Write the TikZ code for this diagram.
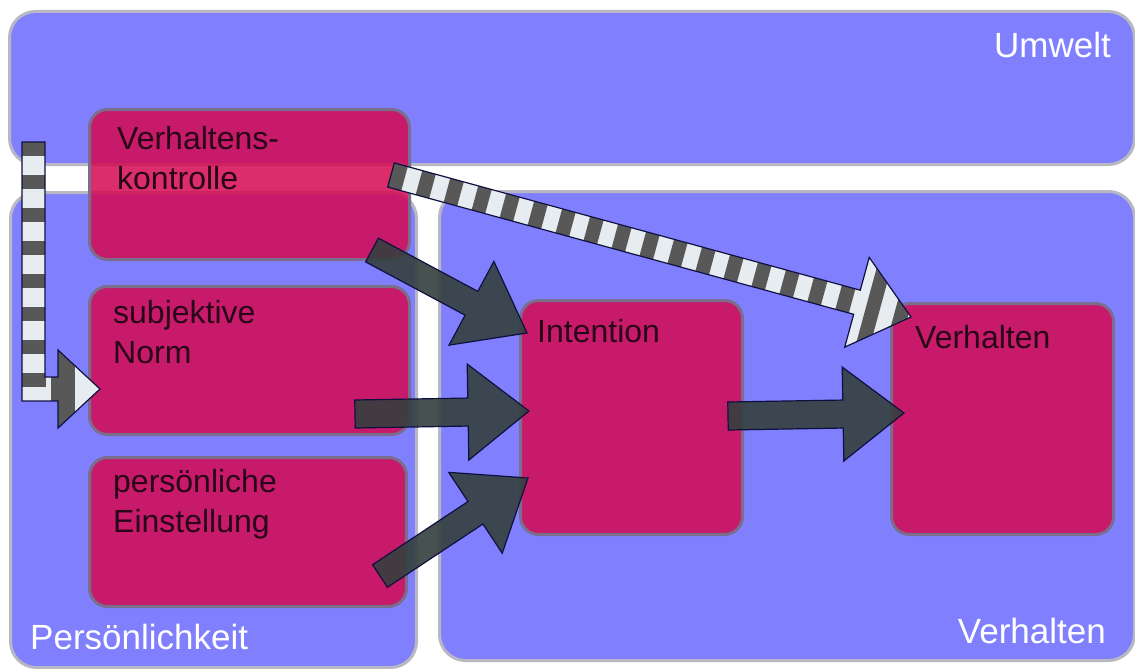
\documentclass[tikz,border=0pt]{standalone}
\usepackage{fontspec}
\setmainfont{Liberation Sans}
\usetikzlibrary{calc,positioning}
\definecolor{regionblue}{RGB}{128,128,255}
\definecolor{regionedge}{RGB}{184,184,196}
\definecolor{boxpink}{RGB}{212,9,80}
\definecolor{boxedge}{RGB}{122,110,140}
\definecolor{arrowgray}{RGB}{52,64,62}
\definecolor{arrowedge}{RGB}{16,16,64}
\definecolor{stripedark}{RGB}{88,88,88}
\definecolor{stripelight}{RGB}{230,236,240}
\definecolor{boxtext}{RGB}{40,6,24}

\tikzset{
  region/.style={rectangle,rounded corners=26pt,draw=regionedge,line width=3pt,fill=regionblue,anchor=north west,inner sep=0pt},
  box/.style={rectangle,rounded corners=18pt,draw=boxedge,line width=3pt,fill=boxpink,fill opacity=0.85,anchor=north west,inner sep=0pt},
  lbl/.style={text=white,font=\fontsize{35}{42}\selectfont,inner sep=0pt},
  txt/.style={text=boxtext,font=\fontsize{32}{40}\selectfont,align=left,inner sep=0pt,anchor=base west},
  solidarrow/.style={fill=arrowgray,fill opacity=0.9,draw=arrowedge,line width=1.2pt},
  stripeedge/.style={draw=arrowedge,line width=1.2pt}
}

% #1 options, #2 tail, #3 tip, #4 half shaft, #5 half head, #6 head length
\newcommand{\blockarrow}[6]{%
  \coordinate (hb) at ($(#3)!#6pt!(#2)$);
  \path[#1] ($(#2)!#4pt!90:(#3)$) -- ($(hb)!#4pt!-90:(#2)$) -- ($(hb)!#5pt!-90:(#2)$) -- (#3)
    -- ($(hb)!#5pt!90:(#2)$) -- ($(hb)!#4pt!90:(#2)$) -- ($(#2)!#4pt!-90:(#3)$) -- cycle;}
\newcommand{\lshape}[1]{%
  \path[#1] (22,142) -- (45,142) -- (45,377) -- (58,377) -- (58,350) -- (lh) -- (58,428) -- (58,401) -- (22,401) -- cycle;}

\begin{document}
\begin{tikzpicture}[x=1pt,y=-1pt]
\useasboundingbox[fill=white] (0,0) rectangle (1135,669);

% Bereiche
\node[region,minimum width=1125pt,minimum height=153pt] (umwelt) at (8,10) {};
\node[region,minimum width=406pt,minimum height=475pt] (pers) at (9,191) {};
\node[region,minimum width=695pt,minimum height=469pt] (verh) at (438,190) {};
\node[lbl,anchor=base east] (umweltlbl) at (1111,58) {Umwelt};
\node[lbl,anchor=base west] (perslbl) at (30,649) {Persönlichkeit};
\node[lbl,anchor=base east] (verhlbl) at (1106,643) {Verhalten};

% Kästen
\node[box,minimum width=320pt,minimum height=150pt] (vk) at (88,108) {};
\node[box,minimum width=320pt,minimum height=148pt] (norm) at (88,285) {};
\node[box,minimum width=317pt,minimum height=149pt] (einst) at (88,456) {};
\node[box,minimum width=222pt,minimum height=234pt] (intent) at (519,299) {};
\node[box,minimum width=222pt,minimum height=231pt] (verhbox) at (890,302) {};
% base = Grundlinie der letzten Zeile
\node[txt] (vktxt) at (117,189) {Verhaltens-\\kontrolle};
\node[txt] (normtxt) at (113,363) {subjektive\\Norm};
\node[txt] (einsttxt) at (113,532) {persönliche\\Einstellung};
\node[txt] (intenttxt) at (537,342) {Intention};
\node[txt] (verhtxt) at (915,348) {Verhalten};

% Pfeile
\coordinate (a1t) at (372,250);
\coordinate (a1h) at (527,333);
\coordinate (a2t) at (355,414);
\coordinate (a2h) at (529,411);
\coordinate (a3t) at (380,576);
\coordinate (a3h) at (528,478);
\coordinate (a4t) at (728,416);
\coordinate (a4h) at (904,413);
\blockarrow{solidarrow}{a1t}{a1h}{13.5}{47.5}{63}
\blockarrow{solidarrow}{a2t}{a2h}{14}{48}{61}
\blockarrow{solidarrow}{a3t}{a3h}{13.5}{48.5}{63}
\blockarrow{solidarrow}{a4t}{a4h}{14}{47}{61}

% gestreifte Pfeile
\coordinate (s1t) at (391,175);
\coordinate (s1h) at (911,317);
\blockarrow{fill=stripelight}{s1t}{s1h}{12.5}{46.5}{56}
\begin{scope}
\blockarrow{clip}{s1t}{s1h}{12.5}{46.5}{56}
\draw[stripedark,line width=110pt,dash pattern=on 14pt off 15pt] (s1t) -- (s1h);
\end{scope}
\blockarrow{stripeedge}{s1t}{s1h}{12.5}{46.5}{56}

\coordinate (lt) at (33.5,142);
\coordinate (lc) at (33.5,389);
\coordinate (lh) at (100,389);
\lshape{fill=stripelight}
\begin{scope}
\lshape{clip}
\draw[stripedark,line width=24pt,dash pattern=on 14pt off 19pt] (lt) -- (lc) -- (58,389);
\draw[stripedark,line width=80pt,dash pattern=on 17pt off 30pt] (58,389) -- (lh);
\end{scope}
\lshape{stripeedge}
\end{tikzpicture}
\end{document}
